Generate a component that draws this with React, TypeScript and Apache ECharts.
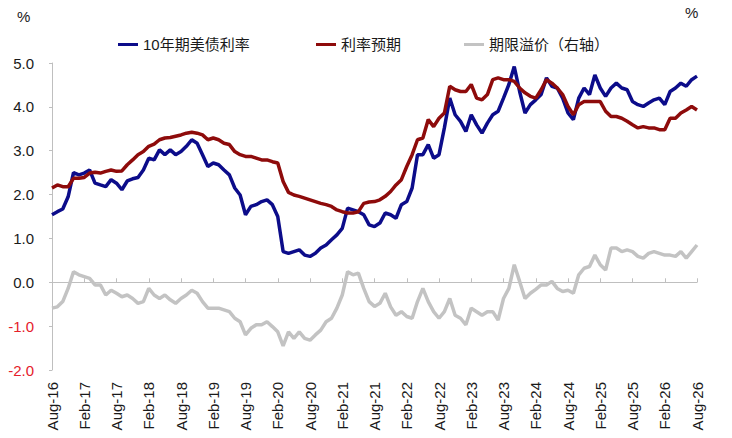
import React, { useEffect, useRef } from "react";
import * as echarts from "echarts";

const MONTH_NAMES = ["Jan", "Feb", "Mar", "Apr", "May", "Jun", "Jul", "Aug", "Sep", "Oct", "Nov", "Dec"];
// Monthly categories Aug-16 ... Aug-26
const categories: string[] = [];
for (let i = 0; i <= 120; i++) {
  const t = 7 + i;
  categories.push(`${MONTH_NAMES[t % 12]}-${16 + Math.floor(t / 12)}`);
}

const seriesNames = ["10年期美债利率", "利率预期", "期限溢价（右轴）"];

const yield10y = [
  1.54, 1.61, 1.67, 1.95, 2.5, 2.45, 2.49, 2.56, 2.26, 2.22,
  2.18, 2.34, 2.26, 2.11, 2.31, 2.36, 2.39, 2.56, 2.83, 2.79,
  3.02, 2.91, 3.02, 2.91, 2.98, 3.1, 3.25, 3.17, 2.91, 2.64,
  2.72, 2.68, 2.56, 2.45, 2.15, 1.99, 1.54, 1.73, 1.77, 1.84,
  1.88, 1.77, 1.5, 0.7, 0.66, 0.7, 0.74, 0.62, 0.59, 0.66,
  0.78, 0.85, 0.97, 1.08, 1.23, 1.69, 1.65, 1.61, 1.54, 1.31,
  1.27, 1.35, 1.58, 1.54, 1.46, 1.77, 1.84, 2.15, 2.91, 2.91,
  3.14, 2.83, 2.91, 3.52, 4.2, 3.82, 3.67, 3.44, 3.82, 3.59,
  3.4, 3.63, 3.82, 3.9, 4.2, 4.51, 4.92, 4.35, 3.86, 4.05,
  4.16, 4.28, 4.66, 4.47, 4.43, 4.2, 3.86, 3.71, 4.2, 4.43,
  4.28, 4.73, 4.43, 4.24, 4.43, 4.54, 4.43, 4.39, 4.12, 4.05,
  4.01, 4.09, 4.16, 4.2, 4.05, 4.35, 4.43, 4.54, 4.47, 4.62,
  4.7,
];

const rateExpectation = [
  2.15, 2.22, 2.18, 2.18, 2.37, 2.37, 2.39, 2.49, 2.51, 2.49,
  2.53, 2.56, 2.53, 2.54, 2.68, 2.79, 2.91, 2.98, 3.1, 3.15,
  3.25, 3.29, 3.3, 3.33, 3.36, 3.4, 3.42, 3.4, 3.36, 3.25,
  3.29, 3.25, 3.17, 3.14, 2.98, 2.91, 2.87, 2.87, 2.83, 2.79,
  2.79, 2.75, 2.72, 2.3, 2.05, 1.99, 1.96, 1.92, 1.88, 1.84,
  1.8, 1.77, 1.73, 1.65, 1.61, 1.58, 1.58, 1.61, 1.8, 1.83,
  1.84, 1.88, 1.96, 2.07, 2.22, 2.34, 2.64, 2.91, 3.25, 3.29,
  3.71, 3.55, 3.74, 3.86, 4.47, 4.39, 4.35, 4.35, 4.51, 4.2,
  4.16, 4.28, 4.62, 4.66, 4.62, 4.62, 4.58, 4.43, 4.32, 4.24,
  4.2, 4.39, 4.62, 4.54, 4.43, 4.28, 4.01, 3.82, 4.05, 4.12,
  4.12, 4.12, 4.12, 3.9, 3.78, 3.78, 3.74, 3.67, 3.59, 3.52,
  3.55, 3.52, 3.52, 3.48, 3.48, 3.74, 3.74, 3.86, 3.93, 4.01,
  3.93,
];

const termPremium = [
  -0.59, -0.56, -0.44, -0.14, 0.24, 0.17, 0.13, 0.09, -0.06, -0.06,
  -0.29, -0.18, -0.25, -0.33, -0.29, -0.37, -0.48, -0.44, -0.14, -0.29,
  -0.37, -0.29, -0.4, -0.48, -0.37, -0.29, -0.18, -0.25, -0.44, -0.59,
  -0.59, -0.59, -0.63, -0.67, -0.82, -0.9, -1.2, -1.05, -0.97, -0.97,
  -0.9, -1.01, -1.13, -1.45, -1.13, -1.28, -1.13, -1.28, -1.32, -1.2,
  -1.09, -0.9, -0.82, -0.59, -0.29, 0.24, 0.17, 0.21, -0.14, -0.44,
  -0.55, -0.48, -0.25, -0.56, -0.75, -0.67, -0.78, -0.82, -0.44, -0.14,
  -0.44, -0.67, -0.82, -0.67, -0.37, -0.75, -0.82, -0.97, -0.59, -0.67,
  -0.75, -0.67, -0.67, -0.86, -0.37, -0.14, 0.4, 0.02, -0.37, -0.25,
  -0.16, -0.06, -0.06, 0.02, -0.14, -0.21, -0.18, -0.25, 0.17, 0.32,
  0.36, 0.62, 0.4, 0.28, 0.78, 0.78, 0.7, 0.74, 0.7, 0.59,
  0.55, 0.66, 0.7, 0.66, 0.62, 0.62, 0.59, 0.7, 0.55, 0.7,
  0.85,
];

const FONT = 'Arial, "Liberation Sans", "Noto Sans CJK SC", sans-serif';
const AXIS_GRAY = "#bfbfbf";
const TEXT = "#1a1a1a";

export default function App() {
  const ref = useRef<HTMLDivElement>(null);

  useEffect(() => {
    if (!ref.current) return;
    const chart = echarts.init(ref.current, undefined, { renderer: "svg" });
    const legendBase = {
      top: 32,
      icon: "rect",
      itemWidth: 20,
      itemHeight: 3,
      textStyle: { fontSize: 15, color: TEXT, fontFamily: FONT },
    };
    chart.setOption({
      animation: false,
      backgroundColor: "#ffffff",
      textStyle: { fontFamily: FONT },
      grid: { left: 52, right: 35, top: 63, bottom: 68 },
      legend: [
        { ...legendBase, left: 113, data: [seriesNames[0]] },
        { ...legendBase, left: 311, data: [seriesNames[1]] },
        { ...legendBase, left: 459, data: [seriesNames[2]] },
      ],
      graphic: [
        { type: "text", left: 17, top: 9, style: { text: "%", fontSize: 15, fill: TEXT, fontFamily: FONT } },
        { type: "text", left: 685, top: 5, style: { text: "%", fontSize: 15, fill: TEXT, fontFamily: FONT } },
      ],
      xAxis: [
        {
          type: "category",
          data: categories,
          boundaryGap: false,
          position: "bottom",
          axisLine: { show: false, onZero: false },
          axisTick: { show: false },
          axisLabel: {
            interval: 5,
            rotate: 90,
            fontSize: 15,
            color: TEXT,
            fontFamily: FONT,
            margin: 12,
          },
          splitLine: { show: false },
        },
        {
          type: "category",
          data: categories,
          boundaryGap: false,
          position: "top",
          axisLine: { show: true, onZero: true, lineStyle: { color: AXIS_GRAY, width: 1 } },
          axisTick: { show: true, interval: 5, length: 4, lineStyle: { color: AXIS_GRAY } },
          axisLabel: { show: false },
          splitLine: { show: false },
        },
      ],
      yAxis: [
        {
          type: "value",
          min: -2,
          max: 5,
          interval: 1,
          position: "left",
          axisLine: { show: true, lineStyle: { color: AXIS_GRAY, width: 1 } },
          axisTick: { show: true, length: 3, lineStyle: { color: AXIS_GRAY } },
          splitLine: { show: false },
          axisLabel: {
            margin: 18,
            fontSize: 15,
            color: TEXT,
            fontFamily: FONT,
            formatter: (v: number) => (v < 0 ? `{n|${v.toFixed(1)}}` : v.toFixed(1)),
            rich: { n: { color: "#e5202a", fontSize: 15, fontFamily: FONT } },
          },
        },
        {
          type: "value",
          min: -2,
          max: 5,
          interval: 1,
          position: "right",
          show: false,
        },
      ],
      series: [
        {
          name: seriesNames[0],
          type: "line",
          data: yield10y,
          symbol: "none",
          color: "#0c0c8a",
          lineStyle: { width: 3.5, color: "#0c0c8a" },
        },
        {
          name: seriesNames[1],
          type: "line",
          data: rateExpectation,
          symbol: "none",
          color: "#8e0b0b",
          lineStyle: { width: 3.5, color: "#8e0b0b" },
        },
        {
          name: seriesNames[2],
          type: "line",
          yAxisIndex: 1,
          data: termPremium,
          symbol: "none",
          color: "#c3c3c3",
          lineStyle: { width: 3.5, color: "#c3c3c3" },
        },
      ],
    });
    return () => chart.dispose();
  }, []);

  return (
    <div
      ref={ref}
      style={{ position: "fixed", left: 0, top: 0, width: 732, height: 438, background: "#fff" }}
    />
  );
}
